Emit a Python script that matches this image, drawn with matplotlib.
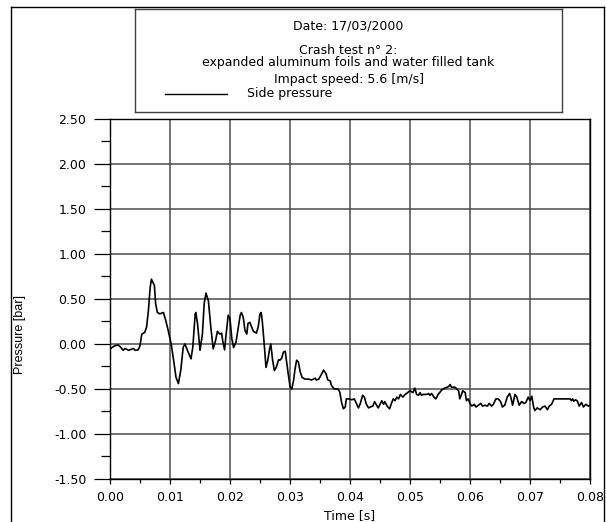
import matplotlib
matplotlib.use("Agg")
import matplotlib.pyplot as plt
from matplotlib.lines import Line2D
from matplotlib.ticker import MultipleLocator, FormatStrFormatter

# Dados (tempo em s, pressão em bar)
tempo = [0.0, 0.0003, 0.0008, 0.0013, 0.0017, 0.0022, 0.0025, 0.0031, 0.0039, 0.0042,
         0.0047, 0.0050, 0.0053, 0.0058, 0.0061, 0.0064, 0.0067, 0.0069, 0.0074, 0.0076,
         0.0079, 0.0083, 0.0089, 0.0093, 0.0097, 0.0102, 0.0106, 0.0110, 0.0114, 0.0118,
         0.0122, 0.0125, 0.0129, 0.0135, 0.0138, 0.0142, 0.0143, 0.0146, 0.0150, 0.0154,
         0.0157, 0.0160, 0.0164, 0.0168, 0.0172, 0.0176, 0.0179, 0.0183, 0.0186, 0.0188,
         0.0191, 0.0193, 0.0197, 0.0200, 0.0203, 0.0206, 0.0210, 0.0213, 0.0217, 0.0219,
         0.0222, 0.0225, 0.0228, 0.0230, 0.0233, 0.0236, 0.0239, 0.0242, 0.0244, 0.0247,
         0.0250, 0.0252, 0.0254, 0.0257, 0.0260, 0.0263, 0.0266, 0.0268, 0.0271, 0.0274,
         0.0277, 0.0281, 0.0283, 0.0286, 0.0289, 0.0292, 0.0294, 0.0297, 0.0300, 0.0303,
         0.0306, 0.0308, 0.0311, 0.0314, 0.0317, 0.0320, 0.0325, 0.0331, 0.0336, 0.0342,
         0.0344, 0.0348, 0.0353, 0.0356, 0.0360, 0.0363, 0.0367, 0.0369, 0.0374, 0.0380,
         0.0383, 0.0386, 0.0389, 0.0392, 0.0394, 0.0399, 0.0403, 0.0407, 0.0410, 0.0414,
         0.0417, 0.0421, 0.0424, 0.0427, 0.0431, 0.0434, 0.0438, 0.0441, 0.0443, 0.0447,
         0.0450, 0.0453, 0.0456, 0.0458, 0.0462, 0.0466, 0.0469, 0.0472, 0.0475, 0.0478,
         0.0481, 0.0484, 0.0488, 0.0492, 0.0496, 0.0500, 0.0505, 0.0508, 0.0511, 0.0514,
         0.0517, 0.0519, 0.0522, 0.0528, 0.0531, 0.0533, 0.0536, 0.0540, 0.0543, 0.0547,
         0.0553, 0.0558, 0.0564, 0.0567, 0.0569, 0.0575, 0.0578, 0.0581, 0.0583, 0.0588,
         0.0592, 0.0594, 0.0597, 0.0600, 0.0603, 0.0607, 0.0610, 0.0614, 0.0618, 0.0621,
         0.0625, 0.0629, 0.0632, 0.0636, 0.0639, 0.0643, 0.0647, 0.0651, 0.0654, 0.0658,
         0.0662, 0.0666, 0.0668, 0.0671, 0.0675, 0.0678, 0.0682, 0.0686, 0.0690, 0.0693,
         0.0697, 0.0700, 0.0703, 0.0706, 0.0708, 0.0712, 0.0717, 0.0721, 0.0725, 0.0729,
         0.0732, 0.0736, 0.0740, 0.0750, 0.0761, 0.0767, 0.0769, 0.0771, 0.0773, 0.0776,
         0.0779, 0.0782, 0.0786, 0.0789, 0.0793, 0.0797, 0.0800]
pressao = [-0.06, -0.04, -0.02, -0.01, -0.03, -0.07, -0.05, -0.07, -0.05, -0.07,
           -0.065, -0.02, 0.11, 0.13, 0.19, 0.37, 0.63, 0.72, 0.65, 0.45,
           0.35, 0.335, 0.35, 0.26, 0.15, 0.0, -0.18, -0.37, -0.44, -0.29,
           -0.035, 0.0, -0.07, -0.165, -0.035, 0.335, 0.35, 0.22, -0.07, 0.11,
           0.45, 0.565, 0.48, 0.19, -0.055, 0.04, 0.14, 0.11, 0.12, 0.03,
           -0.065, 0.075, 0.32, 0.28, 0.06, -0.04, 0.02, 0.15, 0.32, 0.35,
           0.30, 0.15, 0.11, 0.23, 0.24, 0.19, 0.14, 0.13, 0.12, 0.19,
           0.335, 0.35, 0.24, 0.0, -0.26, -0.18, -0.055, 0.0, -0.18, -0.295,
           -0.26, -0.175, -0.18, -0.16, -0.09, -0.08, -0.18, -0.33, -0.47, -0.50,
           -0.405, -0.295, -0.18, -0.20, -0.31, -0.37, -0.39, -0.39, -0.40, -0.38,
           -0.40, -0.39, -0.33, -0.29, -0.33, -0.40, -0.41, -0.46, -0.50, -0.50,
           -0.535, -0.65, -0.72, -0.70, -0.61, -0.61, -0.62, -0.61, -0.65, -0.71,
           -0.665, -0.57, -0.59, -0.665, -0.71, -0.70, -0.69, -0.64, -0.665, -0.71,
           -0.67, -0.63, -0.67, -0.64, -0.69, -0.72, -0.66, -0.61, -0.63, -0.59,
           -0.61, -0.56, -0.59, -0.56, -0.54, -0.52, -0.54, -0.49, -0.56, -0.57,
           -0.54, -0.57, -0.56, -0.56, -0.55, -0.57, -0.55, -0.59, -0.61, -0.56,
           -0.51, -0.49, -0.475, -0.45, -0.48, -0.48, -0.50, -0.52, -0.61, -0.52,
           -0.54, -0.63, -0.61, -0.66, -0.69, -0.67, -0.70, -0.68, -0.66, -0.69,
           -0.68, -0.69, -0.66, -0.69, -0.67, -0.61, -0.61, -0.64, -0.70, -0.68,
           -0.59, -0.55, -0.59, -0.68, -0.56, -0.59, -0.68, -0.64, -0.66, -0.65,
           -0.59, -0.63, -0.58, -0.70, -0.74, -0.71, -0.73, -0.70, -0.69, -0.73,
           -0.69, -0.67, -0.61, -0.61, -0.61, -0.61, -0.63, -0.61, -0.635, -0.62,
           -0.635, -0.69, -0.65, -0.70, -0.67, -0.69, -0.68]

x_ticks = [0.00, 0.01, 0.02, 0.03, 0.04, 0.05, 0.06, 0.07, 0.08]
y_ticks = [-1.50, -1.00, -0.50, 0.00, 0.50, 1.00, 1.50, 2.00, 2.50]

plt.rcParams['font.family'] = ['DejaVu Sans']
plt.rcParams['font.size'] = 9

W, H = 606, 522
fig = plt.figure(figsize=(W / 100, H / 100), dpi=100)

# Eixo principal
ax = fig.add_axes([110 / W, 1 - 479 / H, 480 / W, 360 / H])
ax.plot(tempo, pressao, color='black', linewidth=1.2)
ax.set_xlim(x_ticks[0], x_ticks[-1])
ax.set_ylim(y_ticks[0], y_ticks[-1])
ax.set_xticks(x_ticks)
ax.set_yticks(y_ticks)
ax.xaxis.set_major_formatter(FormatStrFormatter('%.2f'))
ax.yaxis.set_major_formatter(FormatStrFormatter('%.2f'))
ax.xaxis.set_minor_locator(MultipleLocator(0.005))
ax.yaxis.set_minor_locator(MultipleLocator(0.25))
ax.tick_params(axis='y', which='major', direction='out', length=11.5, width=0.9, pad=5.5)
ax.tick_params(axis='y', which='minor', direction='out', length=6.5, width=0.9)
ax.tick_params(axis='x', which='major', direction='out', length=3.8, width=0.9, pad=5)
ax.tick_params(axis='x', which='minor', direction='out', length=2.6, width=0.9)
ax.grid(True, which='major', color='0.3', linewidth=1.1)
ax.set_axisbelow(True)
for s in ax.spines.values():
    s.set_linewidth(1.0)

ax.set_xlabel('Time [s]', fontsize=9)
ax.xaxis.set_label_coords(0.5, -0.083)
ax.set_ylabel('Pressure [bar]', family=['Liberation Sans'], fontsize=9)
ax.yaxis.set_label_coords(-0.175, 0.4)

# Caixa de legenda / título
axb = fig.add_axes([135 / W, 1 - 112 / H, 427 / W, 103 / H])
axb.set_xlim(0, 1)
axb.set_ylim(0, 1)
axb.set_xticks([])
axb.set_yticks([])
for s in axb.spines.values():
    s.set_edgecolor('0.25')
    s.set_linewidth(1.0)
axb.text(0.5, 0.835, 'Date: 17/03/2000', ha='center', va='center')
axb.text(0.5, 0.535, 'Crash test n° 2:\nexpanded aluminum foils and water filled tank',
         ha='center', va='center', multialignment='center', linespacing=0.9)
axb.text(0.5, 0.32, 'Impact speed: 5.6 [m/s]', ha='center', va='center')
axb.plot([0.07, 0.215], [0.175, 0.175], color='black', linewidth=1.0)
axb.text(0.262, 0.184, 'Side pressure', ha='left', va='center')

# Moldura externa da figura
xl, xr, yt = 11 / W, 604 / W, 1 - 7 / H
fig.add_artist(Line2D([xl, xl], [0, yt], transform=fig.transFigure, color='black', lw=1.0))
fig.add_artist(Line2D([xl, xr], [yt, yt], transform=fig.transFigure, color='black', lw=1.0))
fig.add_artist(Line2D([xr, xr], [0, yt], transform=fig.transFigure, color='black', lw=1.0))

fig.savefig('out.png', dpi=100)
